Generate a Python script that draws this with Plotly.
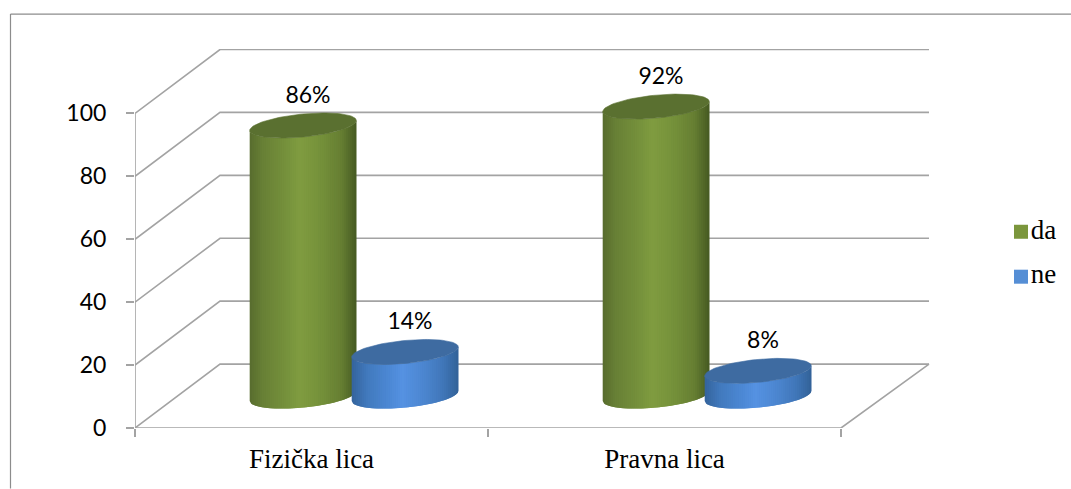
import numpy as np
import plotly.graph_objects as go

categories = ["Fizička lica", "Pravna lica"]
series_names = ["da", "ne"]
da_values = [86, 92]
ne_values = [14, 8]
y_ticks = [0, 20, 40, 60, 80, 100]
labels_da = ["86%", "92%"]
labels_ne = ["14%", "8%"]

W, H = 1071, 489
L, R, T, B = 135, 0, 49, 60.5
PX_X = 353.0            # pixels per category
PX_Y = 3.15             # pixels per value unit
DX = 85 / PX_X          # depth of the 3-D box, category units
DY = 64 / PX_Y          # depth of the 3-D box, value units
WALL_END = 794 / PX_X
XMAX = (W - L - R) / PX_X
YMAX = (H - B - T) / PX_Y
BAR_OFF = 51 / PX_X
RAD_X = 53.3 / PX_X
RAD_Y = 11.5 / PX_Y
TILT = 5 / PX_Y
GRID = "#a3a3a3"
FRAME = "#8c8c8c"
SANS = "Lato"
SERIF = "Liberation Serif"

PROFILES = {
    "da": dict(u=[-1, -0.75, -0.3, -0.06, 0.35, 0.72, 1],
               c=[(88, 108, 46), (104, 128, 54), (118, 146, 60), (128, 156, 64),
                  (116, 144, 58), (102, 126, 50), (70, 90, 34)],
               top=(90, 112, 48), key="#7b963c"),
    "ne": dict(u=[-1, -0.7, -0.3, -0.05, 0.35, 0.72, 1],
               c=[(52, 100, 156), (66, 122, 190), (76, 136, 212), (85, 146, 226),
                  (76, 134, 208), (64, 118, 184), (50, 98, 152)],
               top=(62, 107, 161), key="#558ed5"),
}


def rgb(c):
    return "rgb(%d,%d,%d)" % tuple(int(round(v)) for v in c)


def shade(p, u):
    return [np.interp(u, p["u"], [c[i] for c in p["c"]]) for i in range(3)]


def line_trace(xs, ys, color=GRID, width=1.6):
    return go.Scatter(x=xs, y=ys, mode="lines", line=dict(color=color, width=width),
                      showlegend=False, hoverinfo="skip", cliponaxis=False)


def cylinder(cx, value, p):
    base = DY / 2
    top = base + value
    traces = []
    edges = np.linspace(-1, 1, 54)
    # each strip runs on under the next one, so no seams show between them
    for k in range(len(edges) - 1):
        u0 = edges[k]
        u1 = edges[min(k + 2, len(edges) - 1)]
        us = np.linspace(u0, u1, 7)
        lift = TILT * us - RAD_Y * np.sqrt(np.clip(1 - us ** 2, 0, 1))
        xs = cx + RAD_X * us
        col = rgb(shade(p, edges[k] + (edges[1] - edges[0]) / 2))
        traces.append(go.Scatter(
            x=list(xs) + list(xs[::-1]) + [xs[0]],
            y=list(base + lift) + list((top + lift)[::-1]) + [base + lift[0]],
            mode="lines", fill="toself", fillcolor=col,
            line=dict(width=0),
            showlegend=False, hoverinfo="skip", cliponaxis=False))
    t = np.linspace(0, 2 * np.pi, 90)
    col = rgb(p["top"])
    traces.append(go.Scatter(
        x=cx + RAD_X * np.cos(t),
        y=top + TILT * np.cos(t) + RAD_Y * np.sin(t),
        mode="lines", fill="toself", fillcolor=col,
        line=dict(color=col, width=0.6),
        showlegend=False, hoverinfo="skip", cliponaxis=False))
    return traces


fig = go.Figure()

# walls and gridlines
for v in y_ticks:
    fig.add_trace(line_trace([0, DX, WALL_END], [v, v + DY, v + DY]))
fig.add_trace(line_trace([0, 0], [0, y_ticks[-1]]))
fig.add_trace(line_trace([0, len(categories), WALL_END], [0, 0, DY]))

# cylinders
for i in range(len(categories)):
    centre = i + 0.5 + DX / 2
    for name, vals, off in (("da", da_values, -BAR_OFF), ("ne", ne_values, BAR_OFF)):
        for tr in cylinder(centre + off, vals[i], PROFILES[name]):
            fig.add_trace(tr)

# data labels
for i in range(len(categories)):
    centre = i + 0.5 + DX / 2
    xs = [centre - BAR_OFF + 5 / PX_X, centre + BAR_OFF + 5 / PX_X]
    ys = [DY / 2 + da_values[i] + 9.0, DY / 2 + ne_values[i] + 9.2]
    fig.add_trace(go.Scatter(x=xs, y=ys, mode="text", text=[labels_da[i], labels_ne[i]],
                             textposition="middle center",
                             textfont=dict(family=SANS, size=23, color="#000"),
                             showlegend=False, hoverinfo="skip", cliponaxis=False))

# legend keys, placed to the right of the walls
for name, row in zip(series_names, (0, 1)):
    fig.add_trace(go.Scatter(
        x=[(1021 - L) / PX_X], y=[(H - B - 232 - 45 * row) / PX_Y],
        mode="markers+text", name=name, text=[name], textposition="middle right",
        textfont=dict(family=SERIF, size=27, color="#000"),
        marker=dict(symbol="square", size=14, color=PROFILES[name]["key"], line=dict(width=0)),
        showlegend=False, hoverinfo="skip", cliponaxis=False))

TOP_Y = 1 + (T - 14) / (H - B - T)
LEFT_X = (10.5 - L) / (W - L - R)
fig.update_layout(
    width=W, height=H, autosize=False,
    margin=dict(l=L, r=R, t=T, b=B, pad=0),
    paper_bgcolor="white", plot_bgcolor="white",
    font=dict(family=SANS, color="#000"),
    showlegend=False,
    xaxis=dict(range=[0, XMAX], showgrid=False, zeroline=False, showline=False,
               tickmode="array", tickvals=[i + 0.5 for i in range(len(categories))],
               ticktext=categories, ticks="", ticklabelstandoff=12,
               tickfont=dict(family=SERIF, size=27, color="#000"),
               minor=dict(tickmode="array", tickvals=list(range(len(categories) + 1)),
                          ticks="outside", ticklen=8, tickwidth=1.6, tickcolor=GRID, showgrid=False)),
    yaxis=dict(range=[0, YMAX], showgrid=False, zeroline=False, showline=False,
               tickmode="array", tickvals=y_ticks, ticks="outside", ticklen=8,
               tickwidth=1.6, tickcolor=GRID, ticklabelstandoff=15,
               tickfont=dict(family=SANS, size=23, color="#000")),
    shapes=[
        dict(type="line", xref="paper", yref="paper", x0=LEFT_X, x1=1, y0=TOP_Y, y1=TOP_Y,
             line=dict(color=FRAME, width=1.2)),
        dict(type="line", xref="paper", yref="paper", x0=LEFT_X, x1=LEFT_X, y0=TOP_Y, y1=-B / (H - B - T),
             line=dict(color=FRAME, width=1.2)),
    ],
)

fig.write_html("out.html", config={"displayModeBar": False},
               post_script="document.body.style.margin='0';document.body.style.overflow='hidden';")
